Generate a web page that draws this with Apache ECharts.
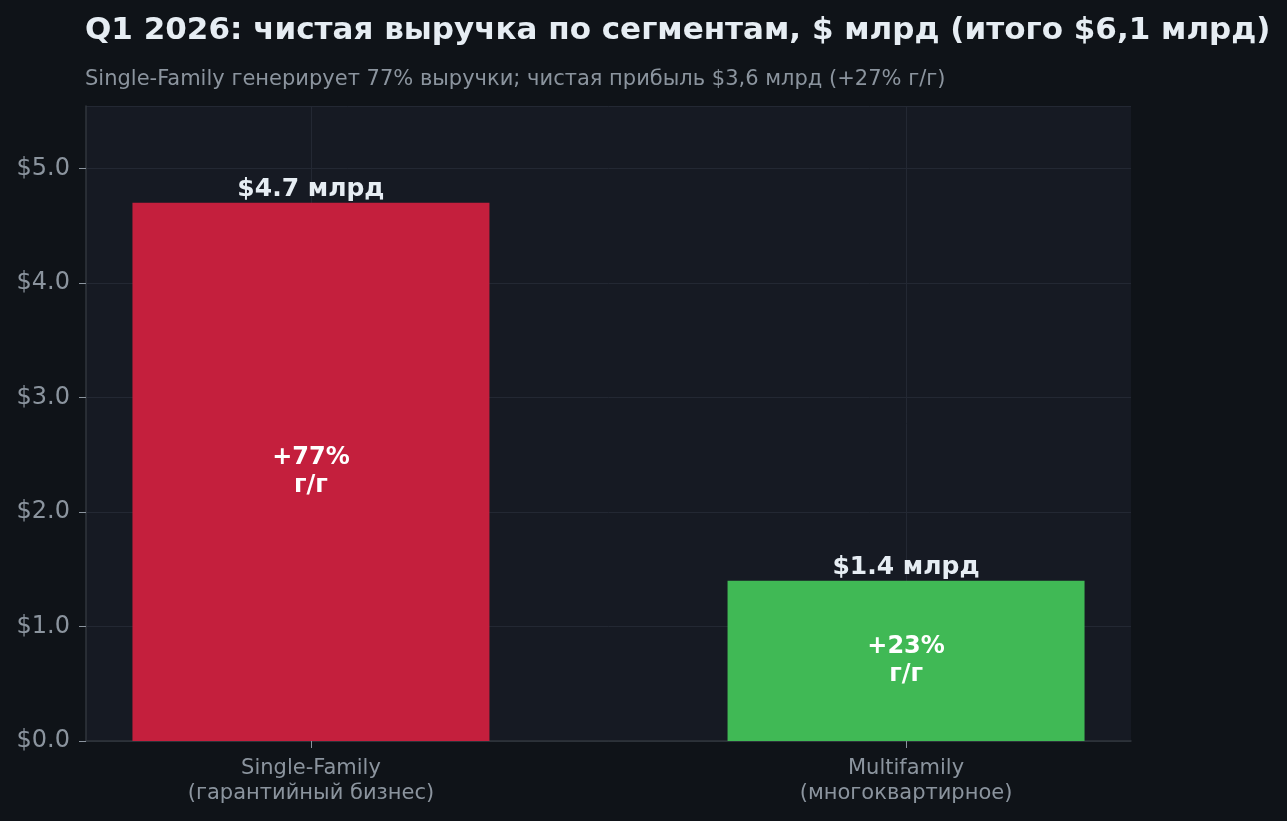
<!DOCTYPE html>
<html>
<head>
<meta charset="utf-8">
<script src="https://cdn.jsdelivr.net/npm/echarts@6/dist/echarts.min.js"></script>
<style>
  html, body { margin: 0; padding: 0; background: #0f1318; }
  #chart { width: 1287px; height: 821px; }
</style>
</head>
<body>
<div id="chart"></div>
<script>
const categories = ['Single-Family\n(гарантийный бизнес)', 'Multifamily\n(многоквартирное)'];
const revenue = [4.7, 1.4];
const growthLabels = ['+77%\nг/г', '+23%\nг/г'];
const barColors = ['#c41f3d', '#40b955'];
const yTicks = [0, 1, 2, 3, 4, 5];

const chart = echarts.init(document.getElementById('chart'));

const font = '"DejaVu Sans"';
const positions = categories.map((c, i) => i);

const option = {
  backgroundColor: '#0f1318',
  animation: false,
  textStyle: { fontFamily: font },
  title: {
    text: 'Q1 2026: чистая выручка по сегментам, $ млрд (итого $6,1 млрд)',
    subtext: 'Single-Family генерирует 77% выручки; чистая прибыль $3,6 млрд (+27% г/г)',
    left: 80,
    top: 10,
    itemGap: 23,
    textStyle: { color: '#e6edf3', fontSize: 31, fontWeight: 'bold', fontFamily: font },
    subtextStyle: { color: '#8b949e', fontSize: 21, fontFamily: font }
  },
  grid: {
    left: 86,
    right: 156,
    top: 106,
    bottom: 80,
    show: true,
    backgroundColor: '#161a23',
    borderWidth: 0
  },
  xAxis: {
    type: 'value',
    min: -0.378,
    max: 1.378,
    axisLine: { show: true, onZero: false, lineStyle: { color: '#30363d', width: 1.5 } },
    axisTick: { show: true, customValues: positions, length: 7, lineStyle: { color: '#8b949e' } },
    axisLabel: {
      customValues: positions,
      formatter: v => categories[Math.round(v)],
      color: '#8b949e',
      fontSize: 21,
      lineHeight: 25,
      margin: 15,
      fontFamily: font
    },
    splitLine: { show: true, customValues: positions, lineStyle: { color: '#232833', width: 1 } }
  },
  yAxis: {
    type: 'value',
    min: 0,
    max: 5.546,
    interval: 1,
    axisLine: { show: true, onZero: false, lineStyle: { color: '#30363d', width: 1.5 } },
    axisTick: { show: true, length: 7, lineStyle: { color: '#8b949e' } },
    axisLabel: {
      formatter: v => (yTicks.indexOf(v) >= 0 ? '$' + v.toFixed(1) : ''),
      color: '#8b949e',
      fontSize: 24,
      margin: 16,
      showMaxLabel: false,
      fontFamily: font
    },
    splitLine: { show: true, lineStyle: { color: '#232833', width: 1 } }
  },
  series: [
    {
      type: 'bar',
      barWidth: 357,
      barGap: '-100%',
      data: revenue.map((v, i) => ({
        value: [positions[i], v],
        itemStyle: { color: barColors[i] }
      })),
      label: {
        show: true,
        position: 'inside',
        formatter: p => growthLabels[p.dataIndex],
        color: '#ffffff',
        fontSize: 24,
        fontWeight: 'bold',
        lineHeight: 28,
        fontFamily: font
      },
      z: 2
    },
    {
      type: 'bar',
      barWidth: 357,
      barGap: '-100%',
      data: revenue.map((v, i) => [positions[i], v]),
      itemStyle: { color: 'rgba(0,0,0,0)' },
      label: {
        show: true,
        position: 'top',
        distance: 1,
        formatter: p => '$' + p.value[1].toFixed(1) + ' млрд',
        color: '#e6edf3',
        fontSize: 25,
        fontWeight: 'bold',
        fontFamily: font
      },
      z: 3
    }
  ]
};

chart.setOption(option);
</script>
</body>
</html>
